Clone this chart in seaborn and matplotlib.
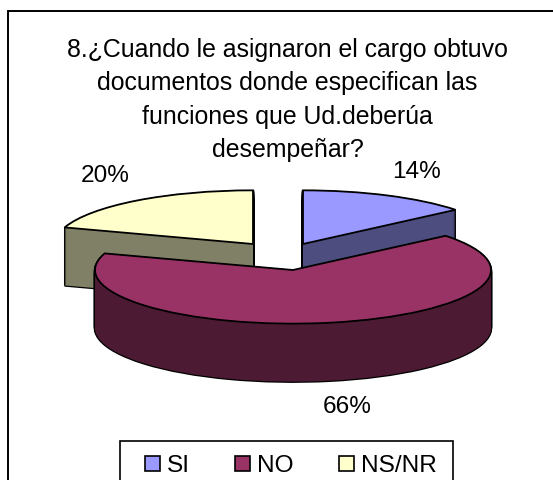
import matplotlib
matplotlib.use("Agg")
import matplotlib.pyplot as plt
from matplotlib.patches import Patch, Rectangle
import seaborn as sns

# data
categories = ["SI", "NO", "NS/NR"]
percent = [14, 66, 20]
top_colors = ["#9999FF", "#993366", "#FFFFCC"]
side_colors = ["#4D4D80", "#4D1A33", "#808066"]
title_lines = ["8.¿Cuando le asignaron el cargo obtuvo",
               "documentos donde especifican las",
               "funciones que Ud.deberúa",
               "desempeñar?"]

W, H = 553, 480
RX = 198      # pie radius in pixels
SQUASH = 0.271  # tilt of the pie
DEPTH = 58
FONT = 17.6

sns.set_theme(style="white")
plt.rcParams["font.family"] = ["Liberation Sans", "DejaVu Sans"]

fig = plt.figure(figsize=(W / 100, H / 100), dpi=100)
ax = fig.add_axes([0, 0, 1, 1])


def to_y(py):
    # pixel row -> data units of the squashed axes
    return (H - py) / SQUASH


def draw_layer(i, cx, cy, color, edge, lw):
    wedges, _ = ax.pie(percent, startangle=90, counterclock=False, radius=RX,
                       center=(cx, to_y(cy)), colors=[color] * 3,
                       wedgeprops={"edgecolor": edge, "linewidth": lw}, frame=True)
    for j, w in enumerate(wedges):
        w.set_visible(j == i)


# apex of every slice, moved by hand like the original; back slices first
slice_order = [(2, 253, 244), (0, 303, 244), (1, 293, 270)]
for i, cx, cy in slice_order:
    for d in range(DEPTH, 0, -1):
        draw_layer(i, cx, cy + d, "black", "black", 1.8)
    for d in range(DEPTH, 0, -1):
        draw_layer(i, cx, cy + d, side_colors[i], "none", 0)
    draw_layer(i, cx, cy, top_colors[i], "black", 1.3)

ax.set_aspect("auto")
ax.set_xlim(0, W)
ax.set_ylim(0, H / SQUASH)
ax.set_xticks([])
ax.set_yticks([])
ax.set_frame_on(False)

# outer frame and legend box both run past the picture edge, like in the original
fig.add_artist(Rectangle((8 / W, -0.1), 1.1, 1.1 - 11 / H, transform=fig.transFigure,
                         fill=False, edgecolor="black", linewidth=1.4))
fig.add_artist(Rectangle((120 / W, -0.1), 333 / W, 1.1 - 441 / H, transform=fig.transFigure,
                         fill=False, edgecolor="black", linewidth=1.2))

# title line by line, the last one sits right next to the 14% label
for n, line in enumerate(title_lines):
    fig.text(287.5 / W, 1 - (57 + n * 33.4) / H, line, ha="center", va="baseline",
             fontsize=17.9, color="black")

label_pos = [(416, 172), (347, 407), (105, 176)]
for v, (x, y) in zip(percent, label_pos):
    fig.text(x / W, 1 - y / H, f"{v}%", ha="center", va="center", fontsize=FONT, color="black")

handles = [Patch(facecolor=c, edgecolor="black", linewidth=1.2) for c in top_colors]
leg = fig.legend(handles, categories, ncol=3, loc="center left",
                 bbox_to_anchor=(145 / W, 1 - 466 / H), fontsize=FONT, frameon=False,
                 borderaxespad=0, borderpad=0, handlelength=0.6, handleheight=0.6,
                 handletextpad=0.3, columnspacing=1.85, labelcolor="black")

fig.savefig("out.png", dpi=100, facecolor="white")
